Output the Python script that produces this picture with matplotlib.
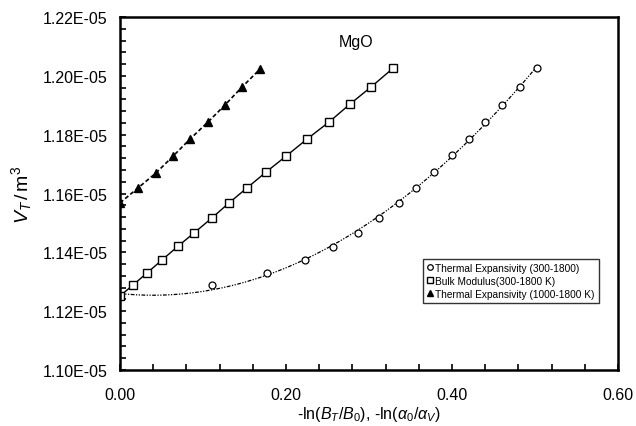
import numpy as np
import matplotlib
matplotlib.use("Agg")
import matplotlib.pyplot as plt
from matplotlib.ticker import MultipleLocator, FuncFormatter

plt.rcParams['font.family'] = ['Liberation Sans', 'DejaVu Sans']
plt.rcParams['mathtext.fontset'] = 'custom'
plt.rcParams['mathtext.rm'] = 'Liberation Sans'
plt.rcParams['mathtext.it'] = 'Liberation Sans:italic'

# Thermal expansivity (300-1800)
x_te = [0.0, 0.1108, 0.1771, 0.2229, 0.2566, 0.2867, 0.312, 0.336, 0.3566,
        0.3783, 0.4, 0.4205, 0.4398, 0.4602, 0.4819, 0.5024]
v_te = [1.1252, 1.1289, 1.1330, 1.1374, 1.1418, 1.1466, 1.1517, 1.1568, 1.1619,
        1.1673, 1.1731, 1.1785, 1.1843, 1.1901, 1.1962, 1.2026]

# Bulk modulus (300-1800 K)
x_bm = [0.0, 0.0157, 0.0325, 0.0506, 0.0699, 0.0892, 0.1108, 0.1313, 0.153,
        0.176, 0.2, 0.2253, 0.2518, 0.2771, 0.3024, 0.329]
v_bm = [1.1252, 1.1289, 1.1330, 1.1374, 1.1421, 1.1466, 1.1517, 1.1568, 1.1619,
        1.1673, 1.1727, 1.1785, 1.1843, 1.1904, 1.1962, 1.2026]

# Thermal expansivity (1000-1800 K)
x_hi = [0.0, 0.0217, 0.0434, 0.0639, 0.0843, 0.106, 0.1265, 0.147, 0.1687]
v_hi = [1.1568, 1.1619, 1.1670, 1.1727, 1.1785, 1.1843, 1.1901, 1.1962, 1.2023]

scale = 1e-5
v_te = np.array(v_te) * scale
v_bm = np.array(v_bm) * scale
v_hi = np.array(v_hi) * scale

fig = plt.figure(figsize=(6.36, 4.27), dpi=100)
ax = fig.add_axes([0.1887, 0.1311, 0.783, 0.8267])

# trend curve through the circles
coef = np.polyfit(x_te, v_te, 2)
xs = np.linspace(0, max(x_te), 200)
ax.plot(xs, np.polyval(coef, xs), color='black', lw=0.9, dashes=[3, 1.2, 1, 1.2, 1, 1.2])
ax.plot(x_te, v_te, 'o', mfc='white', mec='black', ms=5, mew=0.9, ls='none',
        label='Thermal Expansivity (300-1800)')

ax.plot(x_bm, v_bm, color='black', lw=1.0)
ax.plot(x_bm, v_bm, 's', mfc='white', mec='black', ms=6, mew=1.0, ls='none',
        label='Bulk Modulus(300-1800 K)')

ax.plot(x_hi, v_hi, color='black', lw=1.2, dashes=[2.5, 1.5])
ax.plot(x_hi, v_hi, '^', color='black', ms=6, ls='none',
        label='Thermal Expansivity (1000-1800 K)')

ax.set_xlim(0, 0.6)
ax.set_ylim(1.10e-5, 1.22e-5)
ax.xaxis.set_major_locator(MultipleLocator(0.2))
ax.xaxis.set_minor_locator(MultipleLocator(0.04))
ax.yaxis.set_major_locator(MultipleLocator(0.02e-5))
ax.yaxis.set_minor_locator(MultipleLocator(0.004e-5))
ax.xaxis.set_major_formatter(FuncFormatter(lambda v, p: f"{v:.2f}"))
ax.yaxis.set_major_formatter(FuncFormatter(lambda v, p: f"{v:.2E}"))
ax.tick_params(which='both', direction='in', top=False, right=False, width=1.2, length=4)
ax.tick_params(which='major', labelsize=11.5)
ax.tick_params(axis='x', which='major', pad=12)
ax.tick_params(axis='y', which='major', pad=9)
for s in ax.spines.values():
    s.set_linewidth(1.8)

ax.text(0.285, 1.2118e-5, 'MgO', fontsize=11.5, ha='center', va='center')

ax.set_ylabel(r'$V_T\,/\,\mathrm{m}^3$', fontsize=14, labelpad=6)
ax.set_xlabel(r'-ln($B_T$/$B_0$), -ln($\alpha_0$/$\alpha_V$)', fontsize=11.5, labelpad=2)

leg = ax.legend(loc='lower right', bbox_to_anchor=(0.961, 0.19), fontsize=7.3,
                frameon=True, fancybox=False, edgecolor='black', handlelength=0.5,
                handletextpad=0.25, borderpad=0.4, labelspacing=0.3, markerscale=0.8,
                borderaxespad=0)
leg.get_frame().set_linewidth(1.0)

fig.savefig('out.png', dpi=100)
